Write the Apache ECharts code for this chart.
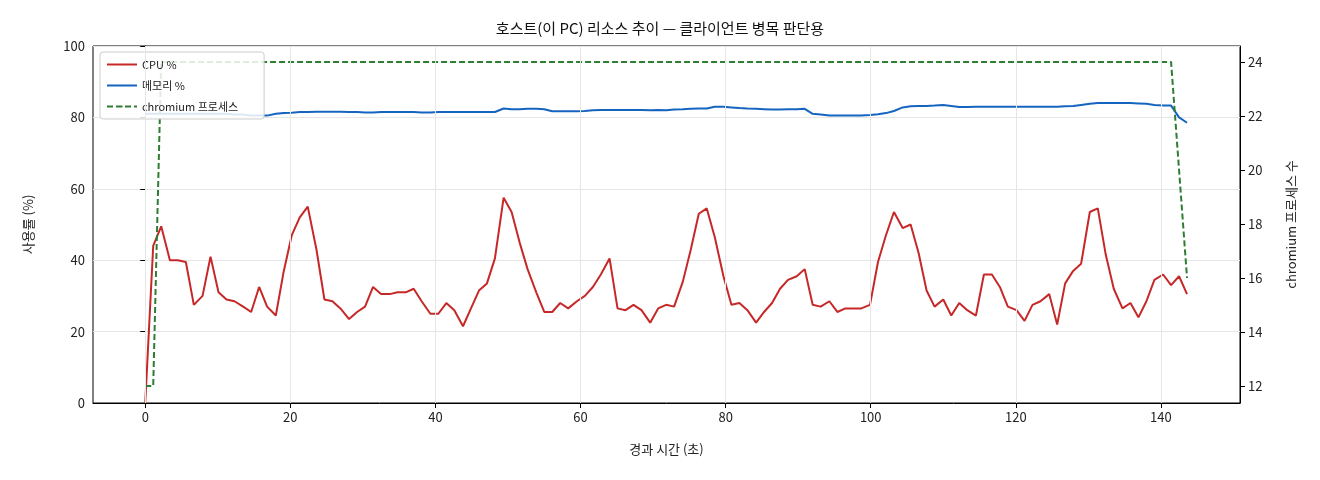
<!DOCTYPE html>
<html><head><meta charset="utf-8">
<script src="https://cdn.jsdelivr.net/npm/echarts@6/dist/echarts.min.js"></script>
<style>html,body{margin:0;padding:0;background:#fff}#c{width:1320px;height:480px}</style>
</head><body><div id="c"></div>
<script>
const times=[0,1.1,2.2,3.4,4.5,5.6,6.7,7.9,9.0,10.1,11.2,12.3,13.5,14.6,15.7,16.8,18.0,19.1,20.2,21.3,22.4,23.6,24.7,25.8,26.9,28.1,29.2,30.3,31.4,32.5,33.7,34.8,35.9,37.0,38.1,39.3,40.4,41.5,42.6,43.8,44.9,46.0,47.1,48.2,49.4,50.5,51.6,52.7,53.9,55.0,56.1,57.2,58.3,59.5,60.6,61.7,62.8,64.0,65.1,66.2,67.3,68.4,69.6,70.7,71.8,72.9,74.1,75.2,76.3,77.4,78.5,79.7,80.8,81.9,83.0,84.2,85.3,86.4,87.5,88.6,89.8,90.9,92.0,93.1,94.3,95.4,96.5,97.6,98.7,99.9,101.0,102.1,103.2,104.4,105.5,106.6,107.7,108.8,110.0,111.1,112.2,113.3,114.5,115.6,116.7,117.8,118.9,120.1,121.2,122.3,123.4,124.6,125.7,126.8,127.9,129.0,130.2,131.3,132.4,133.5,134.7,135.8,136.9,138.0,139.1,140.3,141.4,142.5,143.6];
const cpu=[0,44,49.5,40,40,39.5,27.5,30,41,31,29,28.5,27,25.5,32.5,27,24.5,37,47,52,55,43,29,28.5,26.5,23.5,25.5,27,32.5,30.5,30.5,31,31,32,28.5,25,25,28,26,21.5,26.5,31.5,33.5,40.5,57.5,53.5,45,37.5,31,25.5,25.5,28,26.5,28.5,30,32.5,36,40.5,26.5,26,27.5,26,22.5,26.5,27.5,27,34,43,53,54.5,46.5,35.5,27.5,28,26,22.5,25.5,28,32,34.5,35.5,37.5,27.5,27,28.5,25.5,26.5,26.5,26.5,27.5,39.5,47,53.5,49,50,42,31.5,27,29,24.5,28,26,24.5,36,36,32.5,27,26,23,27.5,28.5,30.5,22,33.5,37,39,53.5,54.5,41.5,32,26.5,28,24,28.5,34.5,36,33,35.5,30.5];
const mem=[81,81,81,81,81,81,81,81,81,81,81,80.8,80.8,80.5,80.5,80.5,81,81.2,81.3,81.5,81.5,81.6,81.6,81.6,81.6,81.5,81.5,81.4,81.4,81.5,81.5,81.5,81.5,81.5,81.4,81.4,81.5,81.5,81.5,81.5,81.5,81.5,81.5,81.5,82.5,82.3,82.3,82.4,82.4,82.3,81.7,81.7,81.7,81.7,81.8,82,82.1,82.1,82.1,82.1,82.1,82.1,82,82.1,82,82.2,82.3,82.4,82.5,82.5,83,83,82.8,82.6,82.5,82.4,82.3,82.2,82.2,82.3,82.3,82.4,81,80.8,80.5,80.5,80.5,80.5,80.5,80.7,80.9,81.2,81.8,82.8,83.1,83.2,83.2,83.3,83.5,83.2,82.9,82.9,83,83,83,83,83,83,83,83,83,83,83,83.1,83.2,83.5,83.8,84,84,84,84,84,83.9,83.8,83.5,83.3,83.3,80,78.5];
const procs=[12,12].concat(Array(125).fill(24)).concat([20,16]);
const xTicks=[0,20,40,60,80,100,120,140];
const rTicks=[12,14,16,18,20,22,24];
const font='"Noto Sans CJK KR","Noto Sans",sans-serif';
const pair=a=>a.map((v,i)=>[times[i],v]);
const chart=echarts.init(document.getElementById('c'));
chart.setOption({
 animation:false,
 textStyle:{fontFamily:font},
 title:{text:'호스트(이 PC) 리소스 추이 — 클라이언트 병목 판단용',left:'center',top:16,textStyle:{fontSize:15,fontWeight:'normal',color:'#111',fontFamily:font}},
 grid:{left:93,right:80,top:46,bottom:77,show:true,borderColor:'#000',borderWidth:1,backgroundColor:'transparent'},
 legend:{orient:'vertical',left:100,top:52,width:162,itemWidth:30,itemHeight:2,itemGap:10,padding:[7,26,7,6],backgroundColor:'rgba(255,255,255,0.85)',borderColor:'#ccc',borderWidth:1,borderRadius:3,textStyle:{fontSize:11,color:'#222'},
  data:[{name:'CPU %'},{name:'메모리 %'},{name:'chromium 프로세스'}]},
 xAxis:{type:'value',min:-7.2,max:150.9,name:'경과 시간 (초)',nameLocation:'middle',nameGap:40,nameTextStyle:{fontSize:13,color:'#222'},
  axisLine:{lineStyle:{color:'#000'}},axisTick:{customValues:xTicks,lineStyle:{color:'#000'}},axisLabel:{customValues:xTicks,fontSize:13,color:'#222'},splitLine:{show:false}},
 yAxis:[{type:'value',min:0,max:100,interval:20,name:'사용률 (%)',nameLocation:'middle',nameGap:58,nameTextStyle:{fontSize:13,color:'#222'},
   axisLine:{show:true,lineStyle:{color:'#000'}},axisTick:{show:true,lineStyle:{color:'#000'}},axisLabel:{fontSize:13,color:'#222'},splitLine:{lineStyle:{color:'#e6e6e6'}}},
  {type:'value',min:11.37,max:24.59,position:'right',name:'chromium 프로세스 수',nameLocation:'middle',nameGap:45,nameTextStyle:{fontSize:13,color:'#222'},
   axisLine:{show:true,lineStyle:{color:'#000'}},axisTick:{show:true,customValues:rTicks,lineStyle:{color:'#000'}},axisLabel:{customValues:rTicks,fontSize:13,color:'#222'},splitLine:{show:false}}],
 series:[
  {name:'CPU %',type:'line',data:pair(cpu),symbol:'none',lineStyle:{color:'#c62828',width:2},itemStyle:{color:'#c62828'},z:3,
   markLine:{silent:true,symbol:'none',label:{show:false},lineStyle:{color:'#e6e6e6',type:'solid',width:1},data:xTicks.map(v=>({xAxis:v}))}},
  {name:'메모리 %',type:'line',data:pair(mem),symbol:'none',lineStyle:{color:'#1565c0',width:2},itemStyle:{color:'#1565c0'},z:3},
  {name:'chromium 프로세스',type:'line',yAxisIndex:1,data:pair(procs),symbol:'none',lineStyle:{color:'#2e7d32',width:2,type:[6,3]},itemStyle:{color:'#2e7d32'},z:3}
 ]
});
</script></body></html>
